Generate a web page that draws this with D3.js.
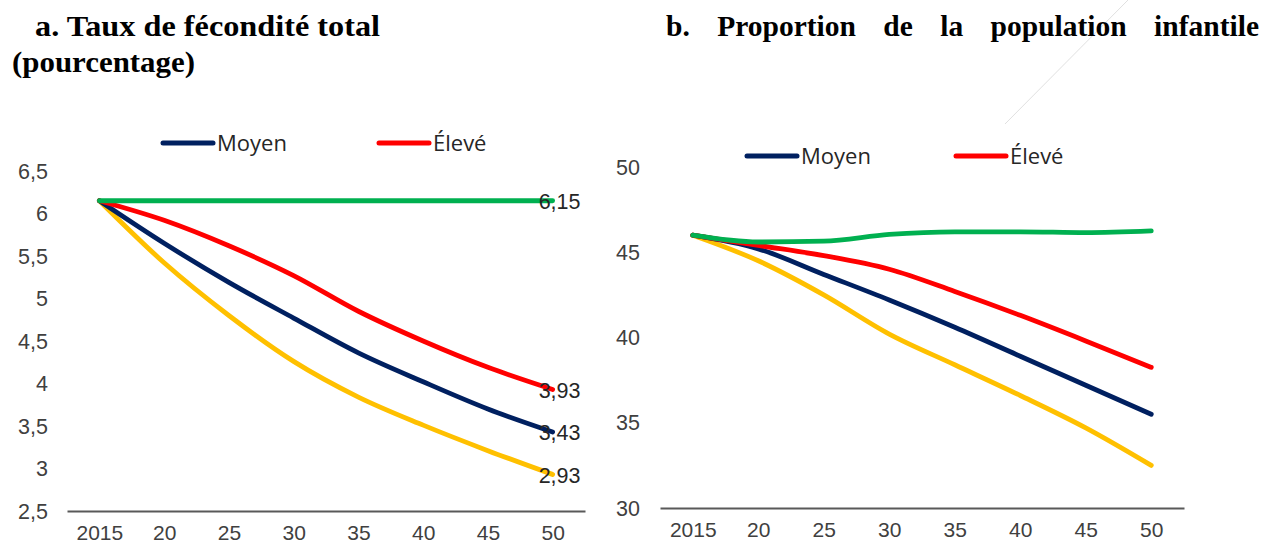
<!DOCTYPE html>
<html><head><meta charset="utf-8">
<script src="https://cdn.jsdelivr.net/npm/d3@7"></script>
<style>
html,body{margin:0;padding:0;background:#fff;}
svg{display:block;}
</style></head>
<body>
<svg id="c" width="1262" height="546"></svg>
<script>
// ---- data ----
const years = [2015, 2020, 2025, 2030, 2035, 2040, 2045, 2050];
const tickLabels = ["2015", "20", "25", "30", "35", "40", "45", "50"];

// Panel a: Taux de fécondité total
const fertConstant = [6.15, 6.15, 6.15, 6.15, 6.15, 6.15, 6.15, 6.15];
const fertHigh     = [6.15, 5.92, 5.62, 5.27, 4.85, 4.50, 4.19, 3.93];
const fertMedium   = [6.15, 5.65, 5.19, 4.77, 4.36, 4.02, 3.70, 3.43];
const fertLow      = [6.15, 5.42, 4.80, 4.26, 3.84, 3.51, 3.21, 2.93];
const fertYTicks = [2.5, 3, 3.5, 4, 4.5, 5, 5.5, 6, 6.5];
const fertEndLabels = ["6,15", "3,93", "3,43", "2,93"];

// Panel b: Proportion de la population infantile
const popConstant = [46.0, 45.6, 45.65, 46.05, 46.2, 46.2, 46.15, 46.25];
const popHigh     = [46.0, 45.4, 44.8, 44.0, 42.7, 41.3, 39.8, 38.25];
const popMedium   = [46.0, 45.2, 43.7, 42.2, 40.6, 38.9, 37.2, 35.5];
const popLow      = [46.0, 44.5, 42.5, 40.2, 38.4, 36.6, 34.7, 32.5];
const popYTicks = [30, 35, 40, 45, 50];

const legendNames = ["Moyen", "Élevé"];

// ---- styles ----
const C = {navy: "#002060", red: "#FF0000", green: "#00B050", yellow: "#FFC000"};
const axisFont = "'Liberation Sans', Arial, sans-serif";
const legendFont = "'Open Sans', sans-serif";
const titleFont = "'Liberation Serif', 'Times New Roman', serif";

const svg = d3.select("#c");

// faint scan artefact line
svg.append("line").attr("x1", 1128).attr("y1", 0).attr("x2", 1005).attr("y2", 124)
  .attr("stroke", "#d8d8d8").attr("stroke-width", 0.8);

// ---- titles ----
function fitText(sel, w) {
  sel.attr("textLength", w).attr("lengthAdjust", "spacingAndGlyphs");
}
const tA1 = svg.append("text").attr("x", 35).attr("y", 36)
  .attr("font-family", titleFont).attr("font-weight", "bold").attr("font-size", 29.5)
  .attr("fill", "#000").text("a. Taux de fécondité total");
fitText(tA1, 345);
const tA2 = svg.append("text").attr("x", 12).attr("y", 72)
  .attr("font-family", titleFont).attr("font-weight", "bold").attr("font-size", 29.5)
  .attr("fill", "#000").text("(pourcentage)");
fitText(tA2, 183);

// justified title b
const bWords = ["b.", "Proportion", "de", "la", "population", "infantile"];
const bStart = 666, bEnd = 1259;
const wNodes = bWords.map(w => svg.append("text").attr("y", 36)
  .attr("font-family", titleFont).attr("font-weight", "bold").attr("font-size", 29.5)
  .attr("fill", "#000").text(w));
const widths = wNodes.map(n => n.node().getComputedTextLength());
const total = d3.sum(widths);
const gap = (bEnd - bStart - total) / (bWords.length - 1);
let cx = bStart;
wNodes.forEach((n, i) => { n.attr("x", cx); cx += widths[i] + gap; });

// ---- panel builder ----
function panel(opts) {
  const g = svg.append("g");
  const x = d3.scalePoint().domain(years).range(opts.xRange).padding(0.5);
  const y = d3.scaleLinear().domain(opts.yDomain).range(opts.yRange);

  // y tick labels
  g.selectAll(".yl").data(opts.yTicks).join("text")
    .attr("x", opts.yLabelX).attr("y", d => y(d)).attr("dy", "0.36em")
    .attr("text-anchor", "end").attr("font-family", axisFont).attr("font-size", 21.5)
    .attr("fill", "#404040")
    .text(d => String(d).replace(".", ","));

  // x axis
  const ax = g.append("g").attr("transform", `translate(0,${y(opts.yDomain[0])})`)
    .call(d3.axisBottom(x).tickSize(0).tickPadding(14).tickFormat((d, i) => tickLabels[i]));
  ax.select(".domain").attr("stroke", "#595959").attr("stroke-width", 2.2);
  ax.selectAll("text").attr("font-family", axisFont).attr("font-size", 21).attr("fill", "#404040");

  const line = d3.line().x((d, i) => x(years[i])).y(d => y(d)).curve(d3.curveMonotoneX);
  opts.series.forEach(s => {
    g.append("path").datum(s.values).attr("d", line)
      .attr("fill", "none").attr("stroke", s.color).attr("stroke-width", 4.8)
      .attr("stroke-linecap", "round").attr("stroke-linejoin", "round");
  });

  // end labels
  if (opts.endLabels) {
    opts.endSeries.forEach((vals, i) => {
      g.append("text").attr("x", x(years[years.length - 1]) - 14)
        .attr("y", y(vals[vals.length - 1])).attr("dy", "0.38em")
        .attr("font-family", axisFont).attr("font-size", 21.5).attr("fill", "#262626")
        .text(opts.endLabels[i]);
    });
  }

  // legend
  const legColors = [C.navy, C.red];
  opts.legendX.forEach((lx, i) => {
    g.append("line").attr("x1", lx).attr("x2", lx + 50).attr("y1", opts.legendY).attr("y2", opts.legendY)
      .attr("stroke", legColors[i]).attr("stroke-width", 5).attr("stroke-linecap", "round");
    g.append("text").attr("x", lx + 54).attr("y", opts.legendY).attr("dy", "0.35em")
      .attr("font-family", legendFont).attr("font-size", 22).attr("fill", "#262626")
      .text(legendNames[i]);
  });
}

panel({
  xRange: [67, 585], yDomain: [2.5, 6.5], yRange: [511, 171], yTicks: fertYTicks, yLabelX: 48,
  series: [
    {values: fertLow, color: C.yellow},
    {values: fertMedium, color: C.navy},
    {values: fertHigh, color: C.red},
    {values: fertConstant, color: C.green}
  ],
  endSeries: [fertConstant, fertHigh, fertMedium, fertLow], endLabels: fertEndLabels,
  legendX: [163, 379], legendY: 143
});

panel({
  xRange: [660, 1184], yDomain: [30, 50], yRange: [508, 167], yTicks: popYTicks, yLabelX: 640,
  series: [
    {values: popLow, color: C.yellow},
    {values: popMedium, color: C.navy},
    {values: popHigh, color: C.red},
    {values: popConstant, color: C.green}
  ],
  legendX: [747, 956], legendY: 156
});
</script>
</body></html>
